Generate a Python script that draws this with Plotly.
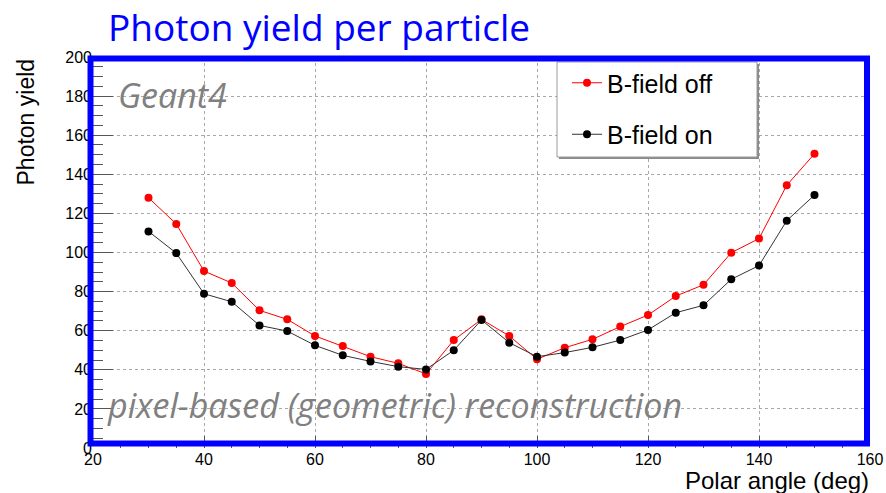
import plotly.graph_objects as go

angles = [30, 35, 40, 45, 50, 55, 60, 65, 70, 75, 80, 85, 90, 95, 100,
          105, 110, 115, 120, 125, 130, 135, 140, 145, 150]
yield_off = [128.0, 114.6, 90.5, 84.4, 70.4, 65.8, 57.3, 52.2, 46.7, 43.3, 37.9, 55.2, 65.8,
             57.3, 45.4, 51.3, 55.6, 62.1, 68.0, 77.7, 83.5, 99.9, 107.1, 134.4, 150.5]
yield_on = [110.8, 99.7, 78.9, 74.8, 62.7, 59.8, 52.5, 47.4, 44.3, 41.6, 40.2, 50.0, 65.5,
            53.9, 46.7, 48.8, 51.5, 55.2, 60.4, 69.2, 73.0, 86.3, 93.3, 116.3, 129.4]
series_names = ["B-field off", "B-field on"]
x_ticks = [20, 40, 60, 80, 100, 120, 140, 160]
y_ticks = [0, 20, 40, 60, 80, 100, 120, 140, 160, 180, 200]

AX_FONT = "Liberation Sans, Arial, sans-serif"

fig = go.Figure()
fig.add_trace(go.Scatter(x=angles, y=yield_off, name=series_names[0], mode="lines+markers",
                         line=dict(color="#ff0000", width=1),
                         marker=dict(color="#ff0000", size=8), legendgroup="a"))
fig.add_trace(go.Scatter(x=angles, y=yield_on, name=series_names[1], mode="lines+markers",
                         line=dict(color="#333333", width=1),
                         marker=dict(color="#000000", size=8), legendgroup="b"))

W, H = 886, 493
L, R, T, B = 93, 16, 57, 45
pw, ph = W - L - R, H - T - B


def px(x):
    return (x - L) / pw


def py(y):
    return (H - B - y) / ph


shapes = [
    # legend shadow and box
    dict(type="rect", xref="paper", yref="paper", x0=px(559), x1=px(759), y0=py(159), y1=py(64),
         fillcolor="#8a8a8a", line=dict(width=0), layer="above"),
    dict(type="rect", xref="paper", yref="paper", x0=px(557), x1=px(757), y0=py(157), y1=py(62),
         fillcolor="white", line=dict(color="#9a9a9a", width=1), layer="above"),
    # blue frame
    dict(type="rect", xref="paper", yref="paper", x0=px(90.5), x1=px(867), y0=py(443.5), y1=py(58.5),
         line=dict(color="#0000ff", width=6), layer="above"),
]

annotations = [
    dict(text="Photon yield per particle", xref="paper", yref="paper", x=px(106), y=py(26),
         xanchor="left", yanchor="middle", showarrow=False,
         font=dict(family="Open Sans, sans-serif", size=37, color="#0000ff")),
    dict(text="Photon yield", xref="paper", yref="paper", x=px(25), y=py(57), textangle=-90,
         xanchor="center", yanchor="top", showarrow=False,
         font=dict(family=AX_FONT, size=23, color="black")),
    dict(text="Polar angle (deg)", xref="paper", yref="paper", x=px(871), y=py(480),
         xanchor="right", yanchor="middle", showarrow=False,
         font=dict(family=AX_FONT, size=24, color="black")),
    dict(text="<i>Geant4</i>", xref="paper", yref="paper", x=px(116), y=py(95),
         xanchor="left", yanchor="middle", showarrow=False,
         font=dict(family="Open Sans, sans-serif", size=34, color="#808080")),
    dict(text="<i>pixel-based (geometric) reconstruction</i>", xref="paper", yref="paper",
         x=px(105), y=py(405), xanchor="left", yanchor="middle", showarrow=False,
         font=dict(family="Open Sans, sans-serif", size=34, color="#808080")),
]

fig.update_layout(
    width=W, height=H,
    margin=dict(l=L, r=R, t=T, b=B, pad=0, autoexpand=False),
    paper_bgcolor="white", plot_bgcolor="white",
    showlegend=True,
    legend=dict(x=px(567), y=py(60), xanchor="left", yanchor="top",
                bgcolor="rgba(0,0,0,0)", borderwidth=0, tracegroupgap=16,
                font=dict(family=AX_FONT, size=25, color="black")),
    shapes=shapes, annotations=annotations,
)

fig.update_xaxes(range=[20, 160], tickvals=x_ticks, ticktext=[str(v) for v in x_ticks],
                 automargin=False,
                 showgrid=True, gridcolor="#a8a8a8", griddash="dot", gridwidth=1,
                 ticks="inside", ticklen=12, tickcolor="#555", zeroline=False, showline=False,
                 minor=dict(dtick=5, ticks="inside", ticklen=7, tickcolor="#555", showgrid=False),
                 tickfont=dict(family=AX_FONT, size=16, color="black"))
fig.update_yaxes(range=[0, 200], tickvals=y_ticks, ticktext=[str(v) for v in y_ticks],
                 automargin=False,
                 showgrid=True, gridcolor="#a8a8a8", griddash="dot", gridwidth=1,
                 ticks="inside", ticklen=20, tickcolor="#555", zeroline=False, showline=False,
                 minor=dict(dtick=5, ticks="inside", ticklen=10, tickcolor="#555", showgrid=False),
                 tickfont=dict(family=AX_FONT, size=16, color="black"))

fig.write_html("out.html")
